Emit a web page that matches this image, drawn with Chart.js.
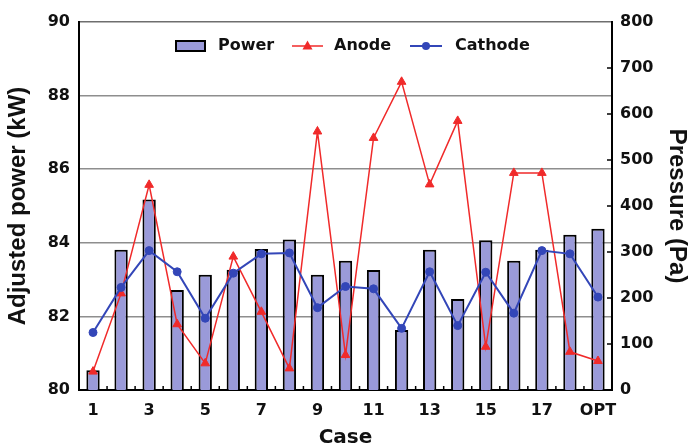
<!DOCTYPE html>
<html>
<head>
<meta charset="utf-8">
<script src="https://cdn.jsdelivr.net/npm/chart.js@4.4.1/dist/chart.umd.min.js"></script>
<style>
html,body{margin:0;padding:0;background:#fff;}
#wrap{width:690px;height:448px;}
</style>
</head>
<body>
<div id="wrap"><canvas id="c" width="690" height="448"></canvas></div>
<script>
// ---- data ----
const cases = ['1','2','3','4','5','6','7','8','9','10','11','12','13','14','15','16','17','18','OPT'];
const xTickLabels = ['1','3','5','7','9','11','13','15','17','OPT'];
const power = [80.54, 83.81, 85.18, 82.72, 83.13, 83.27, 83.83, 84.09, 83.13, 83.51, 83.26, 81.63, 83.81, 82.47, 84.07, 83.51, 83.81, 84.22, 84.38];
const anode = [40, 210, 446, 143, 58, 290, 170, 47, 562, 76, 548, 670, 447, 585, 94, 472, 472, 83, 63];
const cathode = [125, 223, 303, 257, 156, 254, 296, 298, 179, 225, 220, 134, 257, 140, 256, 167, 303, 296, 202];
const powerTicks = [80, 82, 84, 86, 88, 90];
const pressureTicks = [0, 100, 200, 300, 400, 500, 600, 700, 800];
const legendLabels = ['Power', 'Anode', 'Cathode'];

const BAR_FILL = '#9a9ad9';
const RED = '#f02a2a';
const BLUE = '#3346b8';
const TICK_FONT = {family: 'DejaVu Sans', weight: 'bold', size: 16};
const TITLE_FONT = {family: 'Liberation Sans', weight: 'bold', size: 24, lineHeight: 1};

const extrasPlugin = {
  id: 'extras',
  afterDraw(chart) {
    const ctx = chart.ctx;
    const xs = chart.scales.x, yr = chart.scales.y1;
    const area = chart.chartArea;
    ctx.save();
    ctx.strokeStyle = '#000';
    ctx.lineWidth = 1.5;
    // inward tick marks on category boundaries
    for (let i = 0; i < cases.length - 1; i++) {
      const px = (xs.getPixelForValue(i) + xs.getPixelForValue(i + 1)) / 2;
      ctx.beginPath();
      ctx.moveTo(px, area.bottom);
      ctx.lineTo(px, area.bottom - 4);
      ctx.stroke();
    }
    // inward tick marks on the right axis
    pressureTicks.forEach(v => {
      if (v === 0 || v === 800) return;
      const py = yr.getPixelForValue(v);
      ctx.beginPath();
      ctx.moveTo(area.right, py);
      ctx.lineTo(area.right - 5, py);
      ctx.stroke();
    });
    // legend inside the plot
    const ly = 46;
    ctx.font = 'bold 16px "DejaVu Sans"';
    ctx.textBaseline = 'middle';
    // Power
    ctx.fillStyle = BAR_FILL;
    ctx.fillRect(176, 41, 29, 10);
    ctx.lineWidth = 2;
    ctx.strokeStyle = '#000';
    ctx.strokeRect(176, 41, 29, 10);
    ctx.fillStyle = '#111';
    ctx.fillText(legendLabels[0], 218, ly);
    // Anode
    ctx.strokeStyle = RED; ctx.lineWidth = 1.5;
    ctx.beginPath(); ctx.moveTo(292, ly); ctx.lineTo(323, ly); ctx.stroke();
    ctx.fillStyle = RED;
    ctx.beginPath(); ctx.moveTo(307.5, ly - 5.5); ctx.lineTo(312.5, ly + 3.5); ctx.lineTo(302.5, ly + 3.5); ctx.closePath(); ctx.fill();
    ctx.fillStyle = '#111';
    ctx.fillText(legendLabels[1], 334, ly);
    // Cathode
    ctx.strokeStyle = BLUE; ctx.lineWidth = 2;
    ctx.beginPath(); ctx.moveTo(410, ly); ctx.lineTo(442, ly); ctx.stroke();
    ctx.fillStyle = BLUE;
    ctx.beginPath(); ctx.arc(426, ly, 4, 0, Math.PI * 2); ctx.fill();
    ctx.fillStyle = '#111';
    ctx.fillText(legendLabels[2], 455, ly);
    ctx.restore();
  }
};

new Chart(document.getElementById('c'), {
  data: {
    labels: cases,
    datasets: [
      {
        type: 'line', label: 'Cathode', data: cathode, yAxisID: 'y1', order: 1,
        borderColor: BLUE, backgroundColor: BLUE, borderWidth: 2,
        pointStyle: 'circle', pointRadius: 4, pointBorderWidth: 1, tension: 0
      },
      {
        type: 'line', label: 'Anode', data: anode, yAxisID: 'y1', order: 2,
        borderColor: RED, backgroundColor: RED, borderWidth: 1.5,
        pointStyle: 'triangle', pointRadius: 5, pointBorderWidth: 1, tension: 0
      },
      {
        type: 'bar', label: 'Power', data: power, yAxisID: 'y', order: 3,
        backgroundColor: BAR_FILL, borderColor: '#000', borderWidth: 2,
        categoryPercentage: 1, barPercentage: 0.475
      }
    ]
  },
  options: {
    responsive: false,
    animation: false,
    devicePixelRatio: 1,
    layout: {padding: {top: 22, left: 0, right: 0, bottom: 0}},
    plugins: {legend: {display: false}, tooltip: {enabled: false}},
    scales: {
      x: {
        type: 'category', offset: true,
        grid: {display: false},
        border: {display: true, color: '#000', width: 2},
        ticks: {
          autoSkip: false, maxRotation: 0, minRotation: 0, padding: 3, color: '#111', font: TICK_FONT,
          callback: (v, i) => xTickLabels.includes(cases[i]) ? cases[i] : ''
        },
        title: {display: true, text: 'Case', color: '#111', font: {family: 'DejaVu Sans', weight: 'bold', size: 20, lineHeight: 1}, padding: {top: 0, bottom: 0}},
        afterFit: s => { s.height = 58; }
      },
      y: {
        position: 'left', min: 80, max: 90,
        afterBuildTicks: s => { s.ticks = powerTicks.map(v => ({value: v})); },
        ticks: {padding: 9, color: '#111', font: TICK_FONT},
        grid: {
          drawTicks: false, lineWidth: 1.5,
          color: c => c.tick && c.tick.value === 80 ? 'rgba(0,0,0,0)' : (c.tick && c.tick.value === 90 ? '#6e6e6e' : '#8e8e8e')
        },
        border: {display: true, color: '#000', width: 2},
        title: {display: true, text: 'Adjusted power (kW)', color: '#111', font: TITLE_FONT, padding: {top: 6, bottom: 0}},
        afterFit: s => { s.width = 79; }
      },
      y1: {
        position: 'right', min: 0, max: 800,
        afterBuildTicks: s => { s.ticks = pressureTicks.map(v => ({value: v})); },
        ticks: {padding: 8, color: '#111', font: TICK_FONT},
        grid: {drawOnChartArea: false, drawTicks: false},
        border: {display: true, color: '#000', width: 2},
        title: {display: true, text: 'Pressure (Pa)', color: '#111', font: TITLE_FONT, padding: {top: 1, bottom: 0}},
        afterFit: s => { s.width = 78; }
      }
    }
  },
  plugins: [extrasPlugin]
});
</script>
</body>
</html>
